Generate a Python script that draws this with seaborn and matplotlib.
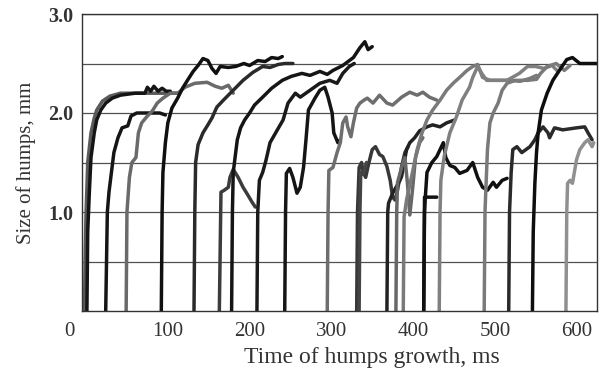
import matplotlib
matplotlib.use('Agg')
import matplotlib.pyplot as plt
import matplotlib.transforms as mtransforms
import pandas as pd
import seaborn as sns

# hump growth curves, time in ms and size in mm
c01_t = [-2, -1, 0, 2, 6, 10, 13, 20, 29, 42, 66, 90, 112]
c01_y = [0, 0.6, 1.0, 1.5, 1.8, 1.95, 2.03, 2.12, 2.17, 2.2, 2.2, 2.2, 2.2]
c02_t = [1, 2, 4, 6, 10, 13, 18, 24, 32, 42, 60, 72, 75, 79, 83, 88, 93, 98, 103]
c02_y = [0, 0.8, 1.2, 1.55, 1.8, 1.93, 2.03, 2.1, 2.15, 2.18, 2.2, 2.2, 2.26, 2.22, 2.27, 2.22, 2.25, 2.22, 2.22]
c03_t = [24, 26, 28, 31, 34, 39, 44, 51, 55, 62, 78, 90, 97]
c03_y = [0, 1.0, 1.2, 1.4, 1.6, 1.75, 1.85, 1.87, 1.97, 2.0, 2.0, 2.0, 1.98]
c04_t = [49, 50, 53, 56, 61, 64, 68, 75, 81, 87, 94, 103, 112, 121, 133, 148, 158, 166, 174, 180]
c04_y = [0, 1.0, 1.35, 1.5, 1.55, 1.8, 1.9, 1.97, 2.02, 2.1, 2.15, 2.2, 2.2, 2.26, 2.3, 2.31, 2.27, 2.25, 2.28, 2.2]
c05_t = [92, 93, 94, 97, 100, 105, 112, 118, 124, 131, 137, 143, 149, 154, 159, 164, 174, 183, 193, 200, 210, 219, 227, 235, 240]
c05_y = [0, 1.0, 1.4, 1.7, 1.9, 2.05, 2.15, 2.25, 2.33, 2.42, 2.48, 2.55, 2.53, 2.45, 2.4, 2.47, 2.46, 2.47, 2.5, 2.48, 2.53, 2.52, 2.56, 2.55, 2.57]
c06_t = [132, 133, 134, 137, 143, 149, 154, 160, 168, 174, 180, 186, 192, 198, 204, 210, 216, 225, 235, 243, 253]
c06_y = [0, 1.0, 1.5, 1.68, 1.8, 1.88, 1.95, 2.06, 2.13, 2.18, 2.23, 2.28, 2.33, 2.37, 2.41, 2.44, 2.47, 2.46, 2.49, 2.5, 2.5]
c07_t = [163, 164, 165, 169, 174, 176, 180, 186, 192, 198, 203, 207]
c07_y = [0, 0.6, 1.2, 1.22, 1.25, 1.35, 1.43, 1.35, 1.25, 1.17, 1.1, 1.05]
c08_t = [178, 179, 180, 183, 185, 189, 194, 200, 206, 216, 227, 240, 251, 264, 274, 286, 295, 302, 314, 327, 335, 341, 345, 350]
c08_y = [0, 1.0, 1.4, 1.6, 1.73, 1.85, 1.93, 2.0, 2.08, 2.16, 2.25, 2.33, 2.37, 2.4, 2.38, 2.42, 2.39, 2.43, 2.48, 2.56, 2.66, 2.72, 2.64, 2.67]
c09_t = [209, 210, 212, 216, 220, 225, 234, 241, 247, 256, 262, 274, 286, 298, 307, 314, 322, 328]
c09_y = [0, 1.0, 1.32, 1.4, 1.52, 1.7, 1.83, 1.93, 2.1, 2.2, 2.16, 2.23, 2.3, 2.33, 2.3, 2.4, 2.47, 2.5]
c10_t = [243, 244, 245, 249, 253, 258, 262, 266, 269, 272, 280, 286, 292, 296, 301, 303, 308, 311]
c10_y = [0, 1.0, 1.39, 1.44, 1.35, 1.19, 1.25, 1.45, 1.73, 2.03, 2.15, 2.23, 2.26, 2.16, 2.0, 1.8, 1.7, 1.73]
c11_t = [295, 296, 297, 302, 307, 311, 314, 318, 320, 324, 327, 331, 335, 340, 344, 351, 359, 368, 375, 386, 396, 405, 412, 420, 429]
c11_y = [0, 1.0, 1.42, 1.45, 1.6, 1.7, 1.9, 1.96, 1.86, 1.76, 1.9, 2.05, 2.1, 2.13, 2.15, 2.1, 2.18, 2.1, 2.08, 2.16, 2.21, 2.18, 2.21, 2.16, 2.13]
c12_t = [331, 332, 334, 337, 339, 342, 346, 350, 354, 359, 363, 368, 372, 375, 378, 381, 386, 390, 394]
c12_y = [0, 1.0, 1.45, 1.5, 1.4, 1.35, 1.5, 1.63, 1.66, 1.58, 1.56, 1.46, 1.32, 1.15, 1.12, 1.22, 1.46, 1.6, 1.66]
c13_t = [334, 335, 336, 339, 343]
c13_y = [0, 1.0, 1.4, 1.38, 1.5]
c14_t = [368, 369, 370, 375, 384, 386, 392, 396, 402, 408, 417, 424, 433, 441, 451]
c14_y = [0, 1.0, 1.09, 1.19, 1.32, 1.36, 1.63, 1.7, 1.75, 1.82, 1.86, 1.88, 1.86, 1.9, 1.93]
c15_t = [379, 380, 381, 386, 390, 393, 396, 399, 403, 408, 412]
c15_y = [0, 1.0, 1.3, 1.45, 1.55, 1.3, 0.97, 1.2, 1.55, 1.7, 1.75]
c16_t = [388, 389, 392, 399, 405, 411, 417, 424, 433, 441, 449, 457, 466, 473, 479, 485, 494, 506, 518, 531, 543, 551]
c16_y = [0, 0.95, 1.12, 1.39, 1.63, 1.8, 1.93, 2.03, 2.13, 2.23, 2.3, 2.36, 2.43, 2.47, 2.49, 2.36, 2.33, 2.33, 2.33, 2.32, 2.35, 2.38]
c17_t = [413, 414, 415, 417, 423, 429, 433, 437, 440, 445, 451, 457, 466, 473, 479, 485, 491, 498, 502, 509, 515]
c17_y = [0, 1.0, 1.15, 1.4, 1.5, 1.56, 1.63, 1.7, 1.55, 1.47, 1.45, 1.39, 1.42, 1.5, 1.35, 1.25, 1.22, 1.3, 1.25, 1.32, 1.34]
c18_t = [413, 414, 429]
c18_y = [0, 1.15, 1.15]
c19_t = [432, 433, 434, 438, 445, 453, 460, 469, 473, 479, 484, 490, 500, 515, 530, 540, 550, 560, 570, 576]
c19_y = [0, 1.0, 1.32, 1.56, 1.8, 1.96, 2.13, 2.26, 2.36, 2.47, 2.4, 2.33, 2.33, 2.33, 2.4, 2.47, 2.47, 2.45, 2.48, 2.43]
c20_t = [487, 488, 489, 491, 494, 498, 504, 509, 515, 525, 540, 551, 556, 564, 575, 585, 592]
c20_y = [0, 1.0, 1.22, 1.63, 1.9, 2.0, 2.1, 2.23, 2.3, 2.33, 2.33, 2.34, 2.4, 2.47, 2.5, 2.43, 2.48]
c21_t = [517, 518, 520, 522, 527, 533, 543, 549, 553, 559, 565, 567, 573, 583, 600, 610, 614, 619]
c21_y = [0, 1.0, 1.4, 1.63, 1.66, 1.6, 1.66, 1.73, 1.8, 1.86, 1.8, 1.75, 1.85, 1.83, 1.85, 1.86, 1.8, 1.73]
c22_t = [546, 547, 549, 551, 553, 557, 564, 571, 579, 588, 595, 604, 612, 625]
c22_y = [0, 0.8, 1.29, 1.6, 1.8, 2.03, 2.2, 2.33, 2.43, 2.54, 2.56, 2.5, 2.5, 2.5]
c23_t = [587, 588, 589, 592, 595, 600, 604, 610, 614, 619, 621]
c23_y = [0, 1.0, 1.29, 1.32, 1.29, 1.53, 1.63, 1.7, 1.73, 1.66, 1.7]

x_ticks = [0, 100, 200, 300, 400, 500, 600]
y_ticks = [1.0, 2.0, 3.0]
y_tick_labels = ['1.0', '2.0', '3.0']

series = [
    (c01_t, c01_y, '#5a5a5a'), (c02_t, c02_y, '#151515'), (c03_t, c03_y, '#151515'),
    (c04_t, c04_y, '#6a6a6a'), (c05_t, c05_y, '#101010'), (c06_t, c06_y, '#2a2a2a'),
    (c07_t, c07_y, '#3c3c3c'), (c08_t, c08_y, '#151515'), (c09_t, c09_y, '#1a1a1a'),
    (c10_t, c10_y, '#151515'), (c11_t, c11_y, '#6e6e6e'), (c12_t, c12_y, '#383838'),
    (c13_t, c13_y, '#444444'), (c14_t, c14_y, '#222222'), (c15_t, c15_y, '#686868'),
    (c16_t, c16_y, '#7a7a7a'), (c17_t, c17_y, '#111111'), (c18_t, c18_y, '#111111'),
    (c19_t, c19_y, '#808080'), (c20_t, c20_y, '#7a7a7a'), (c21_t, c21_y, '#2a2a2a'),
    (c22_t, c22_y, '#0e0e0e'), (c23_t, c23_y, '#909090'),
]

rows = []
for i, (t, y, _) in enumerate(series):
    for tt, yy in zip(t, y):
        rows.append({'curve': f'c{i+1:02d}', 't': tt, 'size': yy})
data = pd.DataFrame(rows)
palette = {f'c{i+1:02d}': col for i, (_, _, col) in enumerate(series)}

sns.set_style('white')
plt.rcParams['font.family'] = ['Liberation Serif', 'DejaVu Serif']

fig = plt.figure(figsize=(6.04, 3.74), dpi=100)
ax = fig.add_axes([82/604, 1 - 311/374, 515/604, 297/374])

# grid lines behind the curves
ax.set_yticks(y_ticks)
ax.set_yticks([0.5, 1.5, 2.5], minor=True)
ax.grid(True, axis='y', which='both', color='#505050', lw=0.9)
ax.set_axisbelow(True)

sns.lineplot(data=data, x='t', y='size', hue='curve', units='curve', estimator=None,
             sort=False, palette=palette, lw=2.5, legend=False, ax=ax)

ax.set_xlim(-5, 625)
ax.set_ylim(0, 3)
ax.set_xticks(x_ticks)
ax.set_xticklabels([str(v) for v in x_ticks], fontsize=15, color='#333333')
ax.set_yticklabels(y_tick_labels, fontsize=14.5, fontweight='bold', color='#333333')
ax.tick_params(axis='both', which='both', length=0)
ax.tick_params(axis='x', pad=8)
ax.tick_params(axis='y', pad=6)

# the corner "0" sits left of the frame in the original
lbl0 = ax.get_xticklabels()[0]
lbl0.set_transform(lbl0.get_transform() + mtransforms.ScaledTranslation(-0.17, 0, fig.dpi_scale_trans))

for sp in ax.spines.values():
    sp.set_color('#333333')
    sp.set_linewidth(1.0)

ax.set_xlabel('')
ax.set_ylabel('Size of humps, mm', fontsize=15, color='#333333', labelpad=9)
fig.text(372/604, 1 - 357/374, 'Time of humps growth, ms', fontsize=17, color='#333333',
         ha='center', va='center')

fig.savefig('out.png', dpi=100)
